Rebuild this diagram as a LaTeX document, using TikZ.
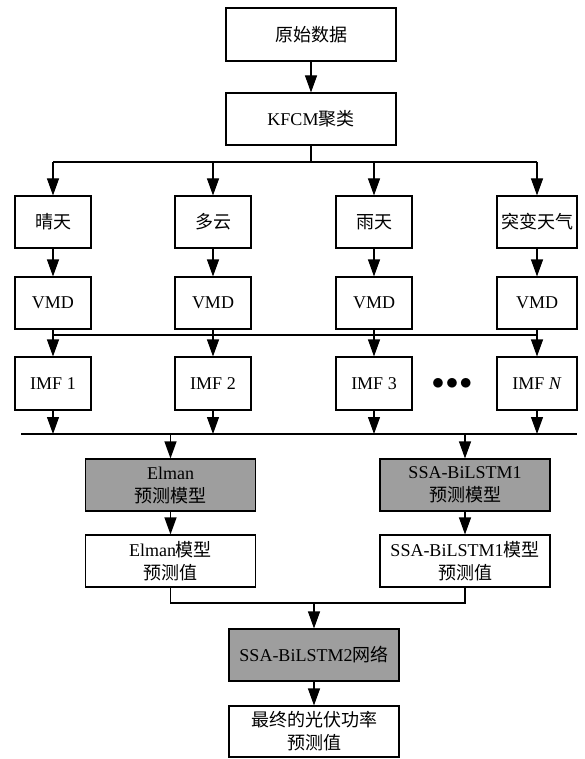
\documentclass[tikz,border=0pt]{standalone}
\usepackage{fontspec}
\setmainfont{Liberation Serif}
\newfontfamily\cjk{Noto Sans CJK SC}
\usetikzlibrary{arrows.meta}

\begin{document}
\begin{tikzpicture}[x=1pt,y=-1pt,line width=1.1pt,
  font=\fontsize{18}{23}\selectfont,
  box/.style={draw,inner sep=0pt,align=center,minimum height=52pt},
  colbox/.style={box,minimum width=76pt},
  shadebox/.style={box,fill=black!38,minimum width=170pt},
  arr/.style={-{Triangle[length=17pt,width=12pt]}}]
\useasboundingbox (0,0) rectangle (584,759);
% top
\node[box,minimum width=170pt,minimum height=53pt] (raw) at (311,34.5) {\cjk 原始数据};
\node[box,minimum width=170pt] (kfcm) at (311,119) {KFCM{\cjk 聚类}};
\draw[arr] (raw) -- (kfcm);
\coordinate (b1) at (311,162);
\coordinate (b2) at (0,335);
\coordinate (b3L) at (21,434);
\coordinate (b3R) at (577,434);
% four weather columns
\node[colbox] (w1) at (53,222) {\cjk 晴天};
\node[colbox] (w2) at (213,222) {\cjk 多云};
\node[colbox] (w3) at (374,222) {\cjk 雨天};
\node[colbox,minimum width=80pt] (w4) at (537,222) {\cjk 突变天气};
\node[colbox] (v1) at (53,303) {VMD};
\node[colbox] (v2) at (213,303) {VMD};
\node[colbox] (v3) at (374,303) {VMD};
\node[colbox,minimum width=80pt] (v4) at (537,303) {VMD};
\node[colbox,minimum height=53pt] (m1) at (53,383.5) {IMF 1};
\node[colbox,minimum height=53pt] (m2) at (213,383.5) {IMF 2};
\node[colbox,minimum height=53pt] (m3) at (374,383.5) {IMF 3};
\node[colbox,minimum width=80pt,minimum height=53pt] (m4) at (537,383.5) {IMF \textit{N}};
\node (dots) at (452,384) {\fontsize{24}{24}\selectfont$\bullet\!\bullet\!\bullet$};
\draw (kfcm) -- (b1);
\draw (w1.north |- b1) -- (w4.north |- b1);
\draw (v1.south |- b2) -- (v4.south |- b2);
\draw (b3L) -- (b3R);
\foreach \i in {1,2,3,4}{
  \draw[arr] (w\i.north |- b1) -- (w\i);
  \draw[arr] (w\i) -- (v\i);
  \draw[arr] (v\i) -- (m\i);
  \draw[arr] (m\i) -- (m\i.south |- b3L);
}
% models
\node[shadebox] (elman) at (170.5,485) {Elman\\\cjk 预测模型};
\node[shadebox] (ssa1) at (465,485) {SSA-BiLSTM1\\\cjk 预测模型};
\node[box,minimum width=170pt] (elmanv) at (170.5,561) {Elman{\cjk 模型}\\\cjk 预测值};
\node[box,minimum width=170pt] (ssa1v) at (465,561) {SSA-BiLSTM1{\cjk 模型}\\\cjk 预测值};
\draw[arr] (elman.north |- b3L) -- (elman);
\draw[arr] (ssa1.north |- b3L) -- (ssa1);
\draw[arr] (elman) -- (elmanv);
\draw[arr] (ssa1) -- (ssa1v);
% combination
\node[shadebox] (ssa2) at (314,655) {SSA-BiLSTM2{\cjk 网络}};
\node[box,minimum width=170pt,minimum height=51pt] (final) at (314,731.5) {\cjk 最终的光伏功率\\\cjk 预测值};
\coordinate (jn) at (314,603);
\draw (elmanv) |- (jn);
\draw[arr] (ssa1v) |- (jn) -- (ssa2);
\draw[arr] (ssa2) -- (final);
\end{tikzpicture}
\end{document}
